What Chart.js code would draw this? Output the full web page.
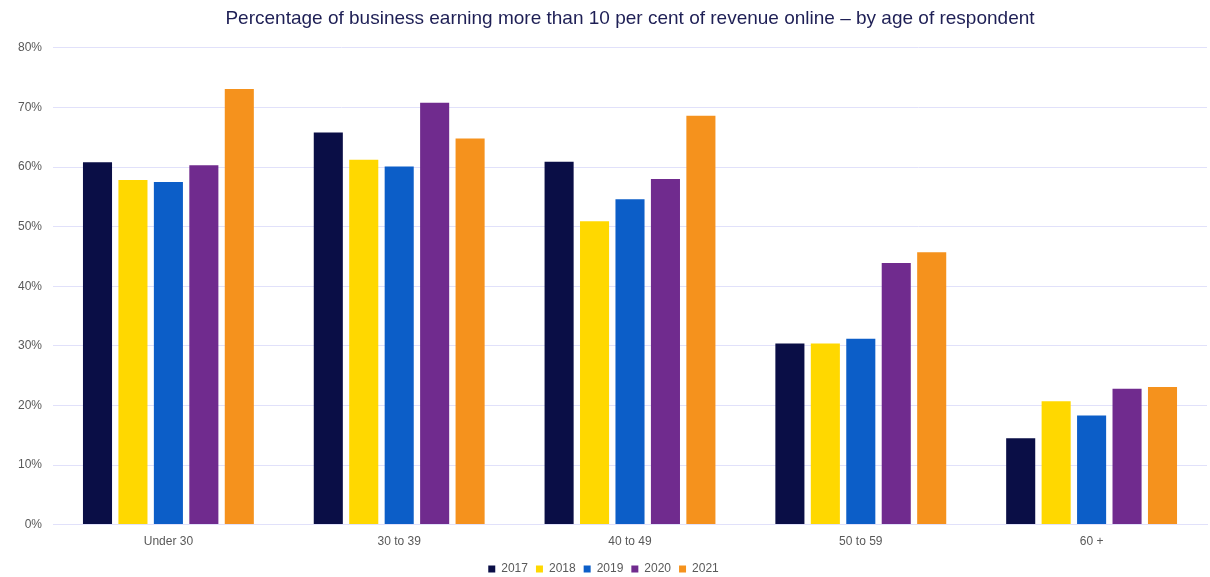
<!DOCTYPE html>
<html>
<head>
<meta charset="utf-8">
<script src="https://cdn.jsdelivr.net/npm/chart.js@4/dist/chart.umd.min.js"></script>
<style>
  html, body { margin: 0; padding: 0; background: #ffffff; }
  #wrap { width: 1210px; height: 577px; position: relative; }
</style>
</head>
<body>
<div id="wrap"><canvas id="ageChart"></canvas></div>
<script>
// age groups and yearly shares (%)
var ageGroups = ['Under 30', '30 to 39', '40 to 49', '50 to 59', '60 +'];
var years = ['2017', '2018', '2019', '2020', '2021'];

var y2017 = [60.8, 65.8, 60.9, 30.4, 14.5];
var y2018 = [57.8, 61.2, 50.9, 30.4, 20.7];
var y2019 = [57.5, 60.1, 54.6, 31.2, 18.3];
var y2020 = [60.3, 70.8, 58.0, 43.9, 22.8];
var y2021 = [73.1, 64.8, 68.6, 45.7, 23.1];

var yearColours = ['#0a0e46', '#ffd800', '#0c5ec8', '#702b8e', '#f5921d'];

var seriesValues = [y2017, y2018, y2019, y2020, y2021];

var datasets = years.map(function(yr, i) {
    return {
        label: yr,
        data: seriesValues[i],
        backgroundColor: yearColours[i],
        borderWidth: 0,
        categoryPercentage: 0.768,
        barPercentage: 0.82
    };
});

var tickGrey = '#595959';
var gridColour = '#e1e1fa';

Chart.defaults.font.family = '"Liberation Sans", Arial, sans-serif';

new Chart(document.getElementById('ageChart'), {
    type: 'bar',
    data: {
        labels: ageGroups,
        datasets: datasets
    },
    options: {
        responsive: true,
        maintainAspectRatio: false,
        animation: false,
        layout: {
            padding: { left: 0, right: 3, top: 0, bottom: -8 }
        },
        plugins: {
            title: {
                display: true,
                fullSize: false,
                text: 'Percentage of business earning more than 10 per cent of revenue online \u2013 by age of respondent',
                color: '#1e1f55',
                font: { size: 19, weight: 'normal' },
                padding: { top: 7, bottom: 18 }
            },
            legend: {
                position: 'bottom',
                labels: {
                    boxWidth: 7,
                    boxHeight: 7,
                    color: tickGrey,
                    font: { size: 12 },
                    padding: 8
                }
            },
            tooltip: { enabled: false }
        },
        scales: {
            x: {
                grid: { display: false, drawTicks: false },
                border: { display: true, color: gridColour, width: 1 },
                ticks: {
                    color: tickGrey,
                    font: { size: 12 },
                    padding: 10
                },
                // pull the plot floor a little closer to the labels
                afterFit: function(scale) { scale.height = scale.height - 4; }
            },
            y: {
                min: 0,
                max: 80,
                grid: { color: gridColour, drawTicks: false },
                border: { display: false },
                ticks: {
                    stepSize: 10,
                    color: tickGrey,
                    font: { size: 12 },
                    padding: 11,
                    callback: function(v) { return v + '%'; }
                },
                afterFit: function(scale) { scale.width = 53; }
            }
        }
    }
});
</script>
</body>
</html>
